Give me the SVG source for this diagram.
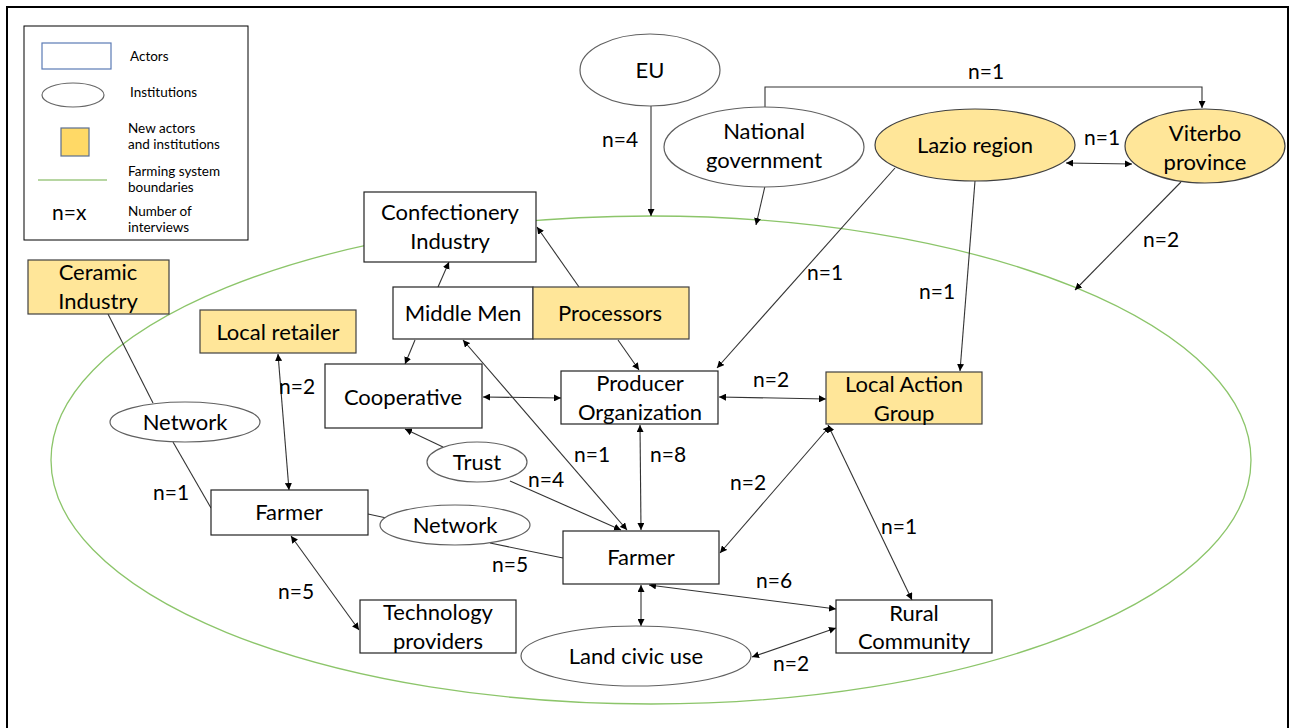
<svg xmlns="http://www.w3.org/2000/svg" width="1296" height="728" viewBox="0 0 1296 728">
<defs>
<marker id="ah" viewBox="0 0 10 10" refX="10" refY="5" markerWidth="7" markerHeight="7" markerUnits="userSpaceOnUse" orient="auto-start-reverse">
<path d="M0,0 L10,5 L0,10 z" fill="#000"/>
</marker>
<style>
text{font-family:Lato,"Liberation Sans",sans-serif;fill:#000}
.t{font-size:22px;text-anchor:middle}
.n{font-size:21px}
.lg{font-size:13.5px}
.box{fill:#fff;stroke:#222;stroke-width:1.2}
.new{fill:#FFE699;stroke:#404040;stroke-width:1.2}
.inst{fill:#fff;stroke:#606060;stroke-width:1.2}
.c line,.c path{stroke:#333;stroke-width:1.1;fill:none}
.a{marker-end:url(#ah)}
.d{marker-start:url(#ah);marker-end:url(#ah)}
</style>
</defs>
<rect width="1296" height="728" fill="#fff"/>
<rect x="7" y="7" width="1281" height="740" fill="none" stroke="#000" stroke-width="2"/>

<g id="legend">
<rect x="24" y="26" width="224" height="214" fill="#fff" stroke="#000" stroke-width="1"/>
<rect x="42" y="43" width="69" height="26" fill="#fff" stroke="#5B7BB5" stroke-width="1.2"/>
<text class="lg" x="130" y="61">Actors</text>
<ellipse cx="73" cy="95" rx="31" ry="12" fill="#fff" stroke="#666" stroke-width="1.2"/>
<text class="lg" x="130" y="97">Institutions</text>
<rect x="61" y="128" width="28" height="28" fill="#FFD966" stroke="#5B6E90" stroke-width="1.2"/>
<text class="lg" x="128" y="133">New actors</text>
<text class="lg" x="128" y="149">and institutions</text>
<line x1="38" y1="180" x2="107" y2="180" stroke="#70AD47" stroke-width="1.2"/>
<text class="lg" x="128" y="176">Farming system</text>
<text class="lg" x="128" y="192">boundaries</text>
<text x="52" y="220" style="font-size:21px">n=x</text>
<text class="lg" x="128" y="216">Number of</text>
<text class="lg" x="128" y="232">interviews</text>
</g>

<ellipse id="boundary" cx="651" cy="460" rx="600" ry="244" fill="none" stroke="#8CC56A" stroke-width="1.3"/>

<g class="c" id="connectors">
<path class="a" d="M765,108 V87 H1202 V108"/>
<line class="a" x1="651" y1="106" x2="651" y2="216"/>
<line class="a" x1="765" y1="186" x2="756" y2="225"/>
<line class="d" x1="1066" y1="163" x2="1132" y2="164"/>
<line class="a" x1="895" y1="168" x2="717" y2="368"/>
<line class="a" x1="975" y1="181" x2="960" y2="371"/>
<line class="a" x1="1181" y1="182" x2="1075" y2="290"/>
<line class="a" x1="438" y1="287" x2="449" y2="262"/>
<line class="a" x1="579" y1="287" x2="537" y2="227"/>
<line class="a" x1="415" y1="340" x2="405" y2="364"/>
<line class="a" x1="618" y1="340" x2="639" y2="370"/>
<line class="d" x1="483" y1="397" x2="561" y2="398"/>
<line class="d" x1="719" y1="397" x2="826" y2="399"/>
<line class="d" x1="463" y1="340" x2="627" y2="530"/>
<line class="d" x1="640" y1="425" x2="641" y2="530"/>
<line class="a" x1="443" y1="447" x2="405" y2="429"/>
<line class="a" x1="510" y1="481" x2="621" y2="530"/>
<line class="d" x1="830" y1="426" x2="720" y2="553"/>
<line class="d" x1="828" y1="425" x2="912" y2="600"/>
<line class="d" x1="278" y1="354" x2="289" y2="490"/>
<line x1="108" y1="314" x2="153" y2="403"/>
<line x1="173" y1="442" x2="211" y2="508"/>
<line x1="368" y1="514" x2="391" y2="519"/>
<line x1="490" y1="543" x2="563" y2="558"/>
<line class="d" x1="291" y1="536" x2="359" y2="630"/>
<line class="d" x1="641" y1="585" x2="641" y2="626"/>
<line class="d" x1="649" y1="585" x2="836" y2="609"/>
<line class="d" x1="752" y1="657" x2="836" y2="628"/>
</g>

<g id="eu"><ellipse class="inst" cx="650" cy="70" rx="70" ry="36"/><text class="t" x="650" y="78">EU</text></g>
<g id="national-government"><ellipse class="inst" cx="764" cy="147" rx="100" ry="40"/><text class="t" x="764" y="139">National</text><text class="t" x="764" y="168">government</text></g>
<g id="lazio-region"><ellipse class="new" cx="975" cy="145" rx="100" ry="36"/><text class="t" x="975" y="153">Lazio region</text></g>
<g id="viterbo-province"><ellipse class="new" cx="1205" cy="146" rx="80" ry="37"/><text class="t" x="1205" y="141">Viterbo</text><text class="t" x="1205" y="170">province</text></g>
<g id="confectionery-industry"><rect class="box" x="364" y="192" width="172" height="70"/><text class="t" x="450" y="220">Confectionery</text><text class="t" x="450" y="249">Industry</text></g>
<g id="ceramic-industry"><rect class="new" x="28" y="260" width="141" height="54"/><text class="t" x="98" y="280">Ceramic</text><text class="t" x="98" y="309">Industry</text></g>
<g id="local-retailer"><rect class="new" x="200" y="310" width="156" height="43"/><text class="t" x="278" y="340">Local retailer</text></g>
<g id="middle-men"><rect class="box" x="393" y="287" width="140" height="52"/><text class="t" x="463" y="321">Middle Men</text></g>
<g id="processors"><rect class="new" x="533" y="287" width="156" height="52"/><text class="t" x="610" y="321">Processors</text></g>
<g id="cooperative"><rect class="box" x="325" y="364" width="157" height="64"/><text class="t" x="403" y="405">Cooperative</text></g>
<g id="producer-organization"><rect class="box" x="561" y="371" width="157" height="53"/><text class="t" x="640" y="391">Producer</text><text class="t" x="640" y="420">Organization</text></g>
<g id="local-action-group"><rect class="new" x="826" y="372" width="156" height="52"/><text class="t" x="904" y="392">Local Action</text><text class="t" x="904" y="421">Group</text></g>
<g id="network-left"><ellipse class="inst" cx="185" cy="422" rx="75" ry="20"/><text class="t" x="185" y="430">Network</text></g>
<g id="trust"><ellipse class="inst" cx="477" cy="462" rx="50" ry="20"/><text class="t" x="477" y="470">Trust</text></g>
<g id="farmer-left"><rect class="box" x="211" y="490" width="157" height="45"/><text class="t" x="289" y="520">Farmer</text></g>
<g id="network-mid"><ellipse class="inst" cx="455" cy="525" rx="75" ry="20"/><text class="t" x="455" y="533">Network</text></g>
<g id="farmer-center"><rect class="box" x="563" y="531" width="156" height="53"/><text class="t" x="641" y="565">Farmer</text></g>
<g id="technology-providers"><rect class="box" x="360" y="600" width="156" height="53"/><text class="t" x="438" y="620">Technology</text><text class="t" x="438" y="649">providers</text></g>
<g id="land-civic-use"><ellipse class="inst" cx="636" cy="656" rx="115" ry="30"/><text class="t" x="636" y="664">Land civic use</text></g>
<g id="rural-community"><rect class="box" x="836" y="600" width="156" height="53"/><text class="t" x="914" y="621">Rural</text><text class="t" x="914" y="649">Community</text></g>

<g id="labels" class="n">
<text class="n" x="968" y="79">n=1</text>
<text class="n" x="602" y="147">n=4</text>
<text class="n" x="1084" y="145">n=1</text>
<text class="n" x="1143" y="247">n=2</text>
<text class="n" x="807" y="280">n=1</text>
<text class="n" x="919" y="299">n=1</text>
<text class="n" x="279" y="394">n=2</text>
<text class="n" x="753" y="387">n=2</text>
<text class="n" x="574" y="462">n=1</text>
<text class="n" x="650" y="462">n=8</text>
<text class="n" x="528" y="487">n=4</text>
<text class="n" x="730" y="490">n=2</text>
<text class="n" x="153" y="500">n=1</text>
<text class="n" x="881" y="534">n=1</text>
<text class="n" x="492" y="572">n=5</text>
<text class="n" x="756" y="588">n=6</text>
<text class="n" x="278" y="599">n=5</text>
<text class="n" x="773" y="671">n=2</text>
</g>
</svg>
